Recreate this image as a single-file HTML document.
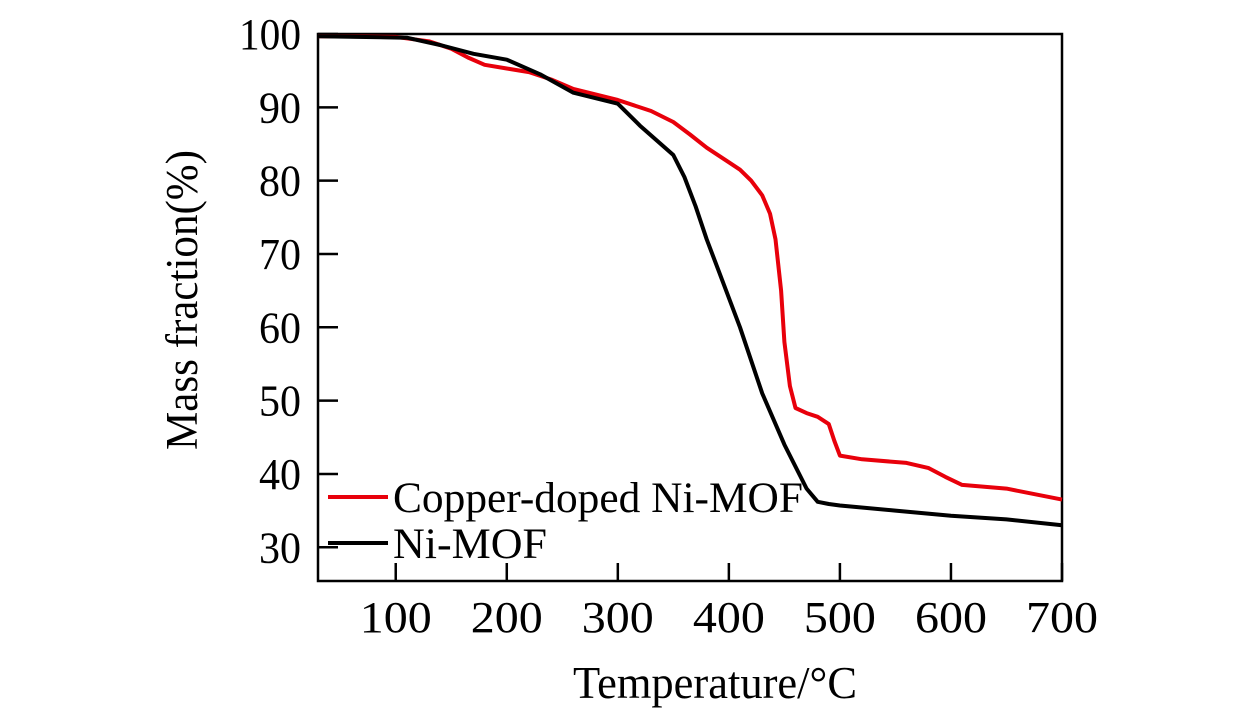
<!DOCTYPE html>
<html><head><meta charset="utf-8"><style>
body{margin:0;background:#fff;}
svg text{font-family:"Liberation Serif",serif;fill:#000;}
</style></head><body>
<svg id="chart" width="1260" height="709" xmlns="http://www.w3.org/2000/svg"></svg>
<script>
const xTicks=[100,200,300,400,500,600,700];
const yTicks=[30,40,50,60,70,80,90,100];
const redT=[30,100,130,150,165,180,200,220,240,260,300,330,350,365,380,400,410,420,430,437,442,447,450,455,460,470,480,490,495,500,520,560,580,595,610,650,700];
const redM=[99.7,99.6,99,98,96.8,95.8,95.3,94.8,93.8,92.5,91,89.5,88,86.3,84.5,82.5,81.5,80,78,75.5,72,65,58,52,49,48.3,47.8,46.8,44.5,42.5,42,41.5,40.8,39.6,38.5,38,36.5];
const blkT=[30,110,140,170,200,230,260,300,320,350,360,370,380,390,410,430,450,470,480,490,500,550,600,650,700];
const blkM=[99.7,99.5,98.5,97.3,96.5,94.5,92,90.5,87.5,83.5,80.5,76.5,72,68,60,51,44,38,36.2,35.9,35.7,35,34.3,33.8,33];
const X0=318,X1=1062,Y0=581,Y1=34;
const xmin=30,xmax=700,ymin=25.4,ymax=100;
const sx=v=>X0+(v-xmin)/(xmax-xmin)*(X1-X0);
const sy=v=>Y0-(v-ymin)/(ymax-ymin)*(Y0-Y1);
const svg=document.getElementById('chart');
const NS='http://www.w3.org/2000/svg';
function mk(tag,attrs,parent){const e=document.createElementNS(NS,tag);for(const k in attrs)e.setAttribute(k,attrs[k]);(parent||svg).appendChild(e);return e;}
function line(pts){return pts.map((p,i)=>(i?'L':'M')+p[0].toFixed(1)+' '+p[1].toFixed(1)).join(' ');}
let fr=mk('rect',{x:X0,y:Y1,width:X1-X0,height:Y0-Y1,fill:'none',stroke:'#000','stroke-width':2.5});


xTicks.forEach(t=>{
 let l=mk('line',{x1:sx(t),x2:sx(t),y1:Y0,y2:Y0-18,stroke:'#000','stroke-width':2.5});
 
 
 let tx=mk('text',{x:sx(t),y:632,'font-size':44,'text-anchor':'middle',textLength:72,lengthAdjust:'spacingAndGlyphs'});tx.textContent=t;
 
 
});
yTicks.forEach(t=>{
 let w=t===100?62:42;
 let tx=mk('text',{x:301-w,y:sy(t)+15,'font-size':44,textLength:w,lengthAdjust:'spacingAndGlyphs'});tx.textContent=t;
 
 
 let l=mk('line',{x1:X0,x2:X0+20,y1:sy(t),y2:sy(t),stroke:'#000','stroke-width':2.5});
 
 
});
let rp=mk('path',{d:line(redT.map((t,i)=>[sx(t),sy(redM[i])])),fill:'none',stroke:'#e8000b','stroke-width':4,'stroke-linejoin':'round'});


let bp=mk('path',{d:line(blkT.map((t,i)=>[sx(t),sy(blkM[i])])),fill:'none',stroke:'#000','stroke-width':4,'stroke-linejoin':'round'});


let l1=mk('line',{x1:328,x2:388,y1:497,y2:497,stroke:'#e8000b','stroke-width':4});


let t1=mk('text',{x:393,y:512,'font-size':43,textLength:410,lengthAdjust:'spacingAndGlyphs'});t1.textContent='Copper-doped Ni-MOF';


let l2=mk('line',{x1:328,x2:388,y1:543,y2:543,stroke:'#000','stroke-width':4});


let t2=mk('text',{x:393,y:558,'font-size':43,textLength:154,lengthAdjust:'spacingAndGlyphs'});t2.textContent='Ni-MOF';


let xt=mk('text',{x:573,y:698,'font-size':45,textLength:284,lengthAdjust:'spacingAndGlyphs'});xt.textContent='Temperature/°C';


let yt=mk('text',{x:-450,y:0,'font-size':45,textLength:300,lengthAdjust:'spacingAndGlyphs',transform:'translate(197,0) rotate(-90)'});yt.textContent='Mass fraction(%)';


</script>
</body></html>
